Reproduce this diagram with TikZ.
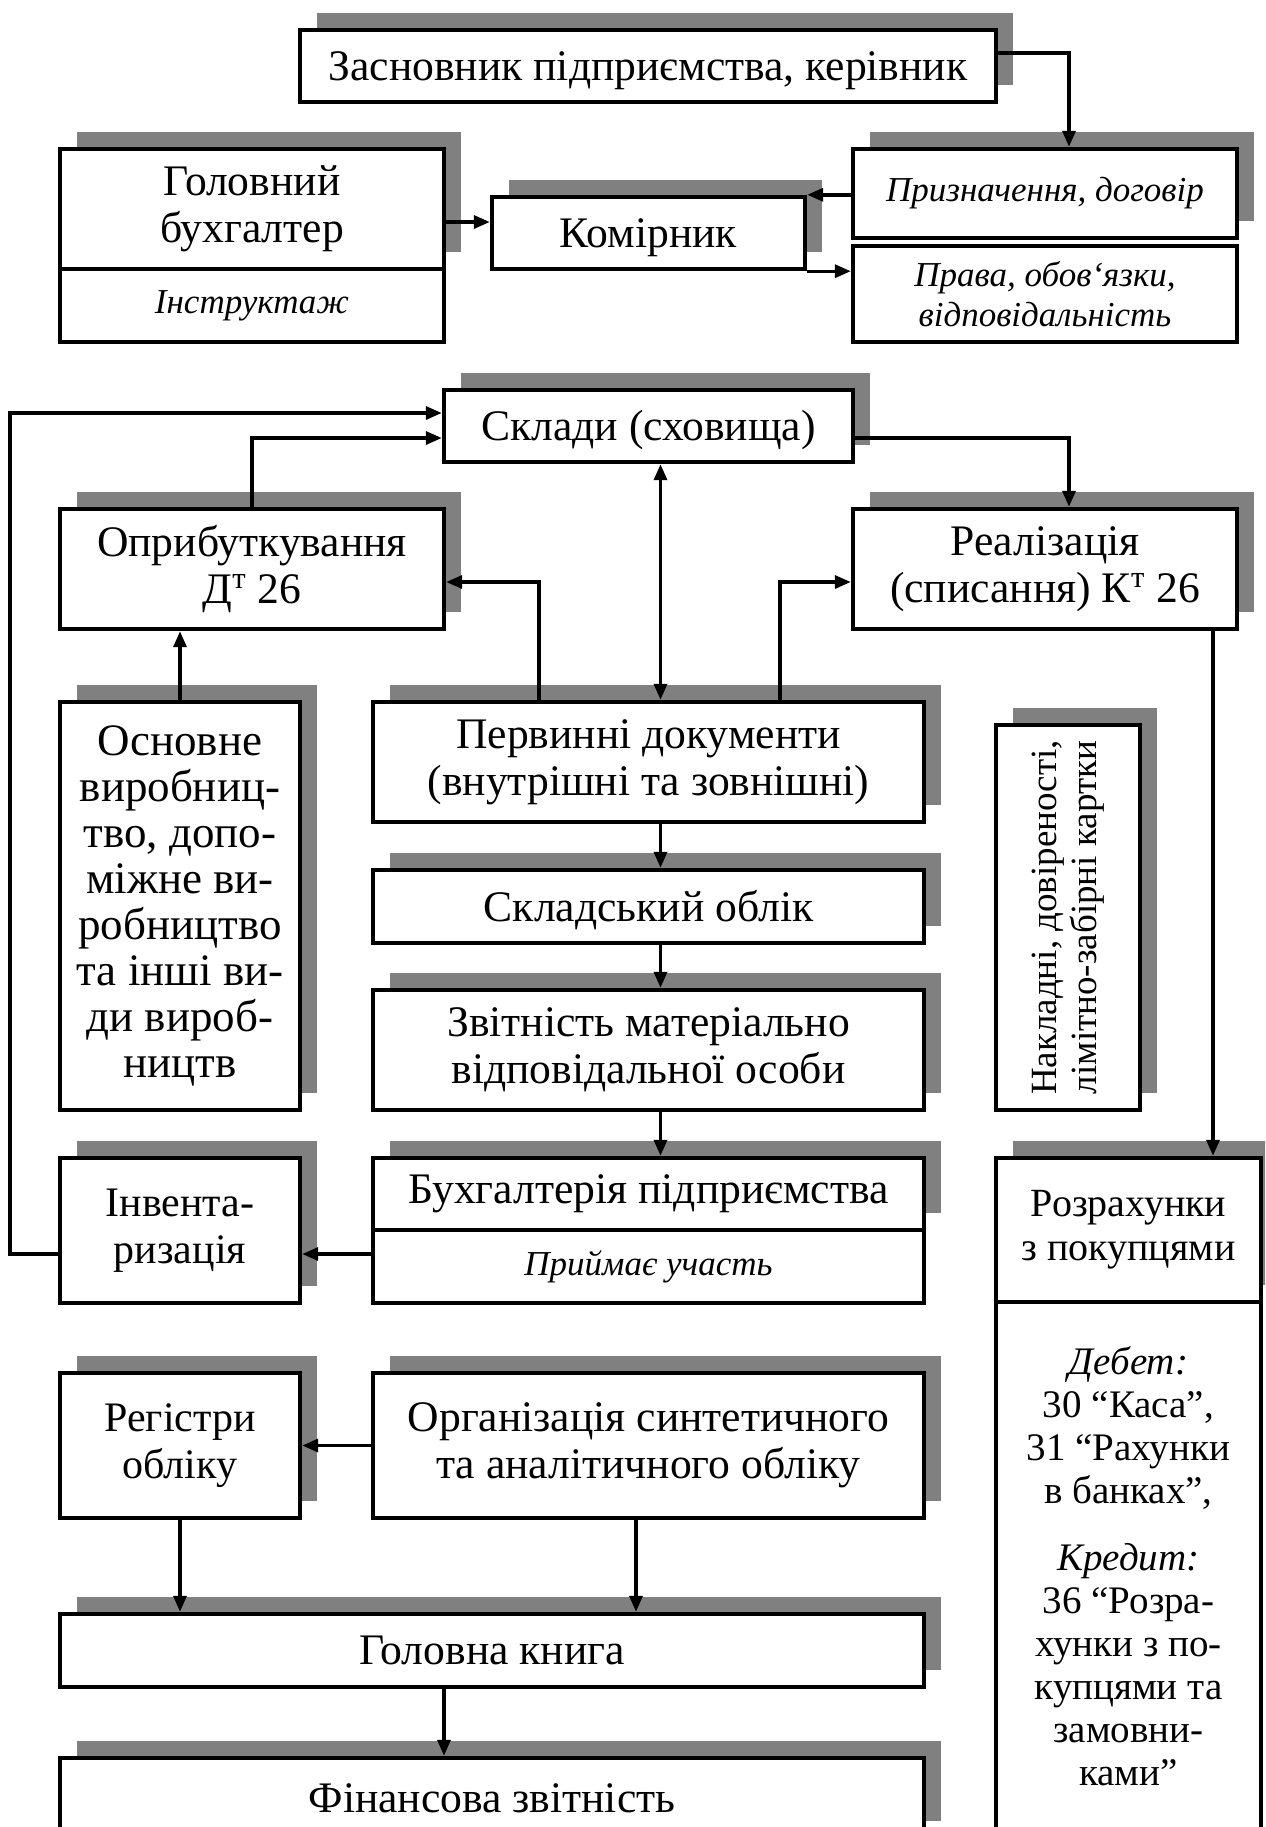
\documentclass[tikz,border=0pt]{standalone}
\usepackage{fontspec}
\setmainfont{Liberation Serif}
\usepackage{graphicx}
\usetikzlibrary{arrows.meta,shadows,backgrounds}
\definecolor{shgray}{RGB}{128,128,128}
\definecolor{arrborder}{RGB}{90,90,90}
\newcommand\fsmain{\fontsize{21.8}{23.5}\selectfont}
\newcommand\fsit{\fontsize{17.5}{20}\selectfont\itshape}
\newcommand\fsrot{\fontsize{18.5}{21}\selectfont}
\newcommand\fsrz{\fontsize{19.5}{21.5}\selectfont}
\newcommand\topstrut{\rule{0pt}{19.5pt}}
\tikzset{
  bx/.style={draw, line width=2.2pt, fill=white, inner sep=0pt, align=center, font=\fsmain},
  st/.style={execute at begin node=\topstrut},
  sh/.style={general shadow={fill=shgray, shadow xshift=8.5pt, shadow yshift=8.5pt}},
  itbox/.style={bx, font=\fsit},
  conn/.style={line width=1.7pt, -{Triangle[length=8pt,width=6.5pt]}},
  dconn/.style={line width=1.7pt, {Triangle[length=8pt,width=6.5pt]}-{Triangle[length=8pt,width=6.5pt]}},
  bigarrow/.style={fill=shgray, draw=arrborder, line width=0.6pt, line join=miter}
}
\begin{document}
\begin{tikzpicture}[x=0.5pt,y=-0.5pt]
\useasboundingbox (0,0) rectangle (1265,1827);
\clip (0,0) rectangle (1265,1827);
\fill[white] (0,0) rectangle (1265,1827);

% top section
\node[bx,st,sh,minimum width=348pt,minimum height=36pt] (zasn) at (648,66) {Засновник підприємства, керівник};
\node[bx,st,sh,minimum width=192pt,minimum height=60pt] (golov) at (252,209) {Головний\\бухгалтер};
\node[itbox,minimum width=192pt,minimum height=36.5pt] (instr) at (252,305.5) {Інструктаж};
\node[bx,st,sh,minimum width=156.5pt,minimum height=36pt] (komir) at (648.5,233) {Комірник};
\node[itbox,sh,minimum width=192pt,minimum height=44.5pt] (pryzn) at (1045,193.5) {Призначення, договір};
\node[itbox,minimum width=192pt,minimum height=48pt] (prava) at (1045,294) {Права, обов‘язки,\\відповідальність};

\begin{pgfonlayer}{background}
\filldraw[bigarrow] (komir.south) ++(-54,0) -- ++(0,73) -- ++(-54,0) -- ++(108,25) -- ++(108,-25) -- ++(-54,0) -- ++(0,-73) -- cycle;
\end{pgfonlayer}

% middle
\node[bx,st,sh,minimum width=204.5pt,minimum height=36pt] (sklady) at (648.5,426) {Склади (сховища)};
\node[bx,st,sh,minimum width=192pt,minimum height=60pt] (opryb) at (252,569) {Оприбуткування\\Д\textsuperscript{т} 26};
\node[bx,st,sh,minimum width=192pt,minimum height=60pt] (real) at (1045,569) {Реалізація\\(списання) К\textsuperscript{т} 26};
\node[bx,sh,minimum width=120pt,minimum height=204pt,font={\fontsize{22.5}{23}\selectfont}] (osnov) at (180,906)
  {Основне\\виробниц-\\тво, допо-\\міжне ви-\\робництво\\та інші ви-\\ди вироб-\\ництв};
\node[bx,st,sh,minimum width=275.5pt,minimum height=60pt] (pervyn) at (648.5,762) {Первинні документи\\(внутрішні та зовнішні)};
\node[bx,sh,minimum width=72pt,minimum height=192.5pt] (naklad) at (1068,917.5)
  {\rotatebox{90}{\fsrot\begin{tabular}{@{}c@{}}Накладні, довіреності,\\[-1pt]лімітно-забірні картки\end{tabular}}};
\node[bx,st,sh,minimum width=275.5pt,minimum height=36.5pt] (sklobl) at (648.5,906.5) {Складський облік};
\node[bx,st,sh,minimum width=275.5pt,minimum height=60pt] (zvit) at (648.5,1050) {Звітність матеріально\\відповідальної особи};
\node[bx,sh,minimum width=120pt,minimum height=72.5pt,font={\fontsize{21}{23.5}\selectfont}] (invent) at (180,1230.5) {Інвента-\\ризація};
\node[bx,sh,minimum width=275.5pt,minimum height=36pt] (buhp) at (648.5,1194) {Бухгалтерія підприємства};
\node[itbox,minimum width=275.5pt,minimum height=36.5pt] (pryim) at (648.5,1266.5) {Приймає участь};
\node[bx,sh,minimum width=132.5pt,minimum height=72pt,font={\fontsize{20}{22}\selectfont},
  execute at begin node={\rule{0pt}{17.5pt}}] (rozr) at (1128.5,1230) {Розрахунки\\з покупцями};
\node[bx,minimum width=132.5pt,minimum height=274pt] (rozrl) at (1128.5,1576) {};
\node[align=center,inner sep=0pt,font=\fsrz] (rozrtxt) at (1128.5,1566)
  {{\itshape Дебет:}\\30 “Каса”,\\31 “Рахунки\\в банках”,\\[12pt]{\itshape Кредит:}\\36 “Розра-\\хунки з по-\\купцями та\\замовни-\\ками”};
\node[bx,sh,minimum width=120pt,minimum height=72.5pt,font={\fontsize{21}{23.5}\selectfont}] (regist) at (180,1445.5) {Регістри\\обліку};
\node[bx,st,sh,minimum width=275.5pt,minimum height=72.5pt] (orgsyn) at (648.5,1445.5) {Організація синтетичного\\та аналітичного обліку};
\node[bx,sh,minimum width=432pt,minimum height=36.5pt] (golkn) at (492,1650.5) {Головна книга};
\node[bx,sh,minimum width=432pt,minimum height=40pt] (finzv) at (492,1798) {Фінансова звітність};

% connectors
\coordinate (z1) at ([yshift=6.5pt]zasn.east);
\draw[conn] (z1) -| ([xshift=12pt]pryzn.north);
\coordinate (g1) at ([yshift=-6.5pt]golov.east);
\draw[conn] (g1) -- (g1 -| komir.west);
\draw[conn] (pryzn.west |- komir.north east) -- (komir.north east);
\draw[conn] (komir.south east) -- (komir.south east -| prava.west);

\coordinate (s1) at ([yshift=6.5pt]sklady.west);
\coordinate (s2) at ([yshift=-6pt]sklady.west);
\coordinate (s3) at ([yshift=-6pt]sklady.east);
\coordinate (iL) at ([yshift=-11.75pt]invent.west);
\coordinate (iR) at ([yshift=-11.75pt]invent.east);
\draw[conn] (iL) -- ++(-48,0) |- (s1);
\draw[conn] (opryb.north) |- (s2);
\draw[conn] (s3) -| ([xshift=12pt]real.north);
\draw[dconn] ([xshift=6pt]sklady.south) -- ([xshift=6pt]pervyn.north);

\coordinate (o1) at ([yshift=-6.5pt]opryb.east);
\coordinate (r1) at ([yshift=-6.5pt]real.west);
\draw[conn] ([xshift=-54.75pt]pervyn.north) |- (o1);
\draw[conn] ([xshift=65.75pt]pervyn.north) |- (r1);
\draw[conn] (osnov.north) -- (osnov.north |- opryb.south);

\draw[conn] ([xshift=6pt]pervyn.south) -- ([xshift=6pt]sklobl.north);
\draw[conn] ([xshift=6pt]sklobl.south) -- ([xshift=6pt]zvit.north);
\draw[conn] ([xshift=6pt]zvit.south) -- ([xshift=6pt]buhp.north);
\draw[conn] (iR -| pryim.west) -- (iR);

\coordinate (rs) at ([xshift=84pt]real.south);
\draw[conn] (rs) -- (rs |- rozr.north);

\draw[conn] (orgsyn.west) -- (regist.east);
\draw[conn] (regist.south) -- (regist.south |- golkn.north);
\coordinate (os) at ([xshift=-6.25pt]orgsyn.south);
\draw[conn] (os) -- (os |- golkn.north);
\coordinate (gk) at ([xshift=-24pt]golkn.south);
\draw[conn] (gk) -- (gk |- finzv.north);
\end{tikzpicture}
\end{document}
